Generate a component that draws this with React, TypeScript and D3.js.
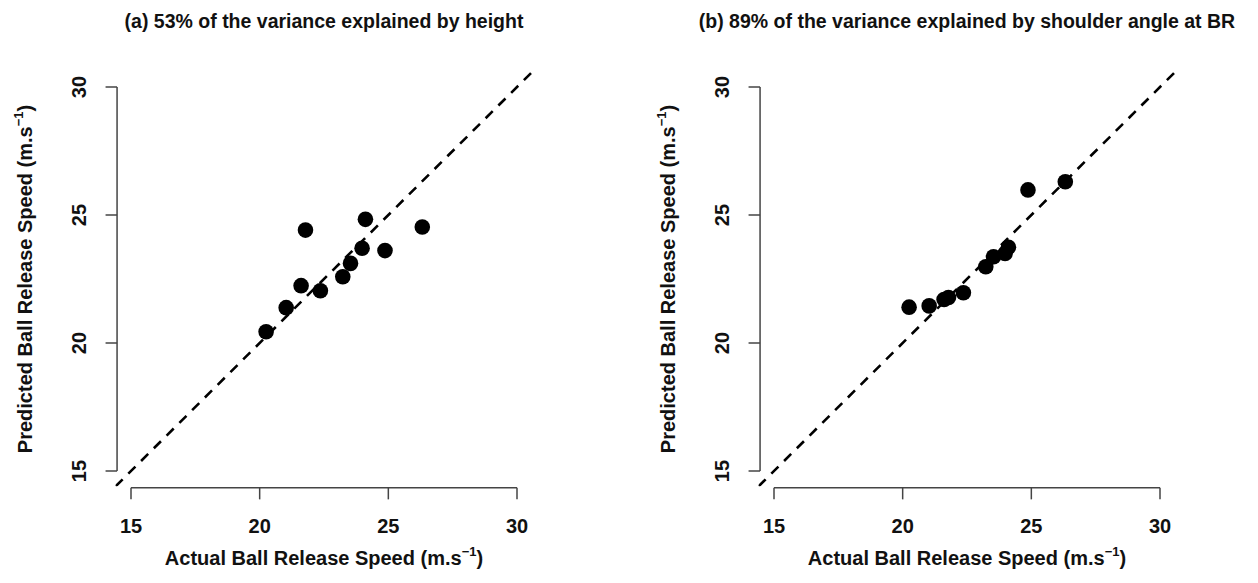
import React, { useEffect, useRef } from "react";
import * as d3 from "d3";

// actual ball release speed (same throwers in both panels)
const actualSpeed = [20.25, 21.03, 21.61, 21.78, 22.36, 23.23, 23.53, 23.98, 24.11, 24.87, 26.32];
// predicted by height
const predictedHeight = [20.44, 21.38, 22.24, 24.41, 22.04, 22.59, 23.11, 23.7, 24.83, 23.61, 24.53];
// predicted by shoulder angle at BR
const predictedShoulder = [21.4, 21.45, 21.7, 21.78, 21.96, 22.98, 23.37, 23.5, 23.74, 25.98, 26.3];

const ticks = [15, 20, 25, 30];
const titles = [
  "(a) 53% of the variance explained by height",
  "(b) 89% of the variance explained by shoulder angle at BR",
];
const panels = [predictedHeight, predictedShoulder];

const W = 1258;
const H = 583;
const FONT = "'Liberation Sans', Arial, sans-serif";

const App = () => {
  const ref = useRef<SVGSVGElement>(null);

  useEffect(() => {
    const svg = d3.select(ref.current);
    svg.selectAll("*").remove();

    panels.forEach((pred, p) => {
      const dx = p * 643;
      const x = d3.scaleLinear().domain([15, 30]).range([131 + dx, 517 + dx]);
      const y = d3.scaleLinear().domain([15, 30]).range([471, 87]);
      // R pads the region by 4%
      const lo = 14.4;
      const hi = 30.6;

      const g = svg.append("g");

      const clipId = `clip-${p}`;
      g.append("clipPath")
        .attr("id", clipId)
        .append("rect")
        .attr("x", x(lo))
        .attr("y", y(hi))
        .attr("width", x(hi) - x(lo))
        .attr("height", y(lo) - y(hi));

      // title
      g.append("text")
        .attr("x", (x(15) + x(30)) / 2)
        .attr("y", 28)
        .attr("text-anchor", "middle")
        .style("font", `bold 19.5px ${FONT}`)
        .attr("fill", "#111")
        .text(titles[p]);

      // x axis
      const xa = g.append("g").attr("stroke", "#444").attr("stroke-width", 1.5);
      xa.append("line")
        .attr("x1", x(15))
        .attr("x2", x(30))
        .attr("y1", y(lo) + 1.5)
        .attr("y2", y(lo) + 1.5);
      ticks.forEach((t) => {
        xa.append("line")
          .attr("x1", x(t))
          .attr("x2", x(t))
          .attr("y1", y(lo) + 1.5)
          .attr("y2", y(lo) + 13);
        g.append("text")
          .attr("x", x(t))
          .attr("y", 533)
          .attr("text-anchor", "middle")
          .style("font", `bold 20px ${FONT}`)
          .attr("fill", "#111")
          .text(t);
      });

      // y axis
      const ya = g.append("g").attr("stroke", "#444").attr("stroke-width", 1.5);
      ya.append("line")
        .attr("x1", x(lo) + 1.5)
        .attr("x2", x(lo) + 1.5)
        .attr("y1", y(15))
        .attr("y2", y(30));
      ticks.forEach((t) => {
        ya.append("line")
          .attr("x1", x(lo) + 1.5)
          .attr("x2", x(lo) - 10)
          .attr("y1", y(t))
          .attr("y2", y(t));
        g.append("text")
          .attr("transform", `translate(${x(lo) - 30},${y(t)}) rotate(-90)`)
          .attr("text-anchor", "middle")
          .style("font", `bold 20px ${FONT}`)
          .attr("fill", "#111")
          .text(t);
      });

      // axis titles
      const xt = g
        .append("text")
        .attr("x", (x(15) + x(30)) / 2)
        .attr("y", 565)
        .attr("text-anchor", "middle")
        .style("font", `bold 20px ${FONT}`)
        .attr("fill", "#111");
      xt.append("tspan").text("Actual Ball Release Speed (m.s");
      xt.append("tspan").attr("dy", -9).style("font-size", "13px").text("\u22121");
      xt.append("tspan").attr("dy", 9).text(")");

      const yt = g
        .append("text")
        .attr("transform", `translate(${x(lo) - 84},${(y(15) + y(30)) / 2}) rotate(-90)`)
        .attr("text-anchor", "middle")
        .style("font", `bold 20px ${FONT}`)
        .attr("fill", "#111");
      yt.append("tspan").text("Predicted Ball Release Speed (m.s");
      yt.append("tspan").attr("dy", -9).style("font-size", "13px").text("\u22121");
      yt.append("tspan").attr("dy", 9).text(")");

      // identity line
      g.append("line")
        .attr("clip-path", `url(#${clipId})`)
        .attr("x1", x(lo))
        .attr("y1", y(lo))
        .attr("x2", x(hi))
        .attr("y2", y(hi))
        .attr("stroke", "#000")
        .attr("stroke-width", 2.6)
        .attr("stroke-dasharray", "10,8");

      // points
      g.selectAll("circle.pt")
        .data(actualSpeed.map((a, i) => [a, pred[i]]))
        .enter()
        .append("circle")
        .attr("class", "pt")
        .attr("cx", (d) => x(d[0]))
        .attr("cy", (d) => y(d[1]))
        .attr("r", 7.8)
        .attr("fill", "#000");
    });
  }, []);

  return (
    <div style={{ margin: -8 }}>
      <svg ref={ref} width={W} height={H} style={{ display: "block", background: "#fff" }}></svg>
    </div>
  );
};

export default App;
